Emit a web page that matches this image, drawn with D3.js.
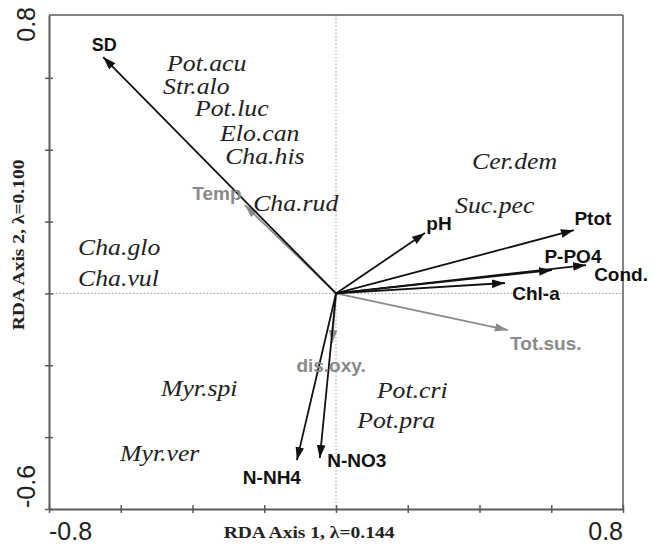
<!DOCTYPE html>
<html>
<head>
<meta charset="utf-8">
<script src="https://cdn.jsdelivr.net/npm/d3@7/dist/d3.min.js"></script>
<style>
  html, body { margin: 0; padding: 0; background: #fff; }
  svg { display: block; }
</style>
</head>
<body>
<svg id="chart" width="664" height="551"></svg>
<script>
// RDA biplot: environmental variables as arrows, species as labels

// Environmental variable scores (arrow tips)
const envNames = ["SD", "Temp", "pH", "Ptot", "P-PO4", "Cond.", "Chl-a", "Tot.sus.", "dis.oxy.", "N-NH4", "N-NO3"];
const envX = [-0.649, -0.254, 0.248, 0.663, 0.602, 0.697, 0.471, 0.479, -0.011, -0.109, -0.045];
const envY = [0.658, 0.246, 0.168, 0.176, 0.065, 0.079, 0.029, -0.102, -0.138, -0.464, -0.458];
// supplementary (passive) variables are drawn in grey
const envPassive = [false, true, false, false, false, false, false, true, true, false, false];

// Species scores
const speciesNames = ["Pot.acu", "Str.alo", "Pot.luc", "Elo.can", "Cha.his", "Cha.rud", "Cha.glo", "Cha.vul",
                      "Cer.dem", "Suc.pec", "Myr.spi", "Myr.ver", "Pot.cri", "Pot.pra"];
const speciesX = [-0.471, -0.482, -0.393, -0.323, -0.309, -0.231, -0.719, -0.719, 0.379, 0.332, -0.488, -0.602, 0.114, 0.059];
const speciesY = [0.636, 0.572, 0.511, 0.441, 0.377, 0.246, 0.124, 0.037, 0.363, 0.240, -0.269, -0.450, -0.274, -0.358];

// Axes
const xDomain = [-0.8, 0.8];
const yDomain = [-0.6, 0.775];
const tickValues = [-0.8, -0.6, -0.4, -0.2, 0, 0.2, 0.4, 0.6, 0.8];
const xEndLabels = ["-0.8", "0.8"];
const yEndLabels = ["-0.6", "0.8"];
const xTitle = "RDA Axis 1, λ=0.144";
const yTitle = "RDA Axis 2, λ=0.100";

const svg = d3.select("#chart");
const plotLeft = 49, plotRight = 623, plotTop = 15, plotBottom = 509;

const x = d3.scaleLinear().domain(xDomain).range([plotLeft, plotRight]);
const y = d3.scaleLinear().domain(yDomain).range([plotBottom, plotTop]);

const frameColor = "#5a5a5a";
const black = "#111";
const grey = "#8a8a8a";
const serif = "'Liberation Serif', 'Times New Roman', Times, serif";
const sans = "'Liberation Sans', Arial, Helvetica, sans-serif";

// zero reference lines
svg.append("line")
  .attr("x1", x(0)).attr("x2", x(0)).attr("y1", plotTop).attr("y2", plotBottom)
  .attr("stroke", "#9a9a9a").attr("stroke-width", 1).attr("stroke-dasharray", "1.5,2");
svg.append("line")
  .attr("x1", plotLeft).attr("x2", plotRight).attr("y1", y(0)).attr("y2", y(0))
  .attr("stroke", "#9a9a9a").attr("stroke-width", 1).attr("stroke-dasharray", "1.5,2");

// frame: top and right edges
svg.append("line").attr("x1", plotLeft).attr("x2", plotRight).attr("y1", plotTop).attr("y2", plotTop)
  .attr("stroke", frameColor).attr("stroke-width", 1.5);
svg.append("line").attr("x1", plotRight).attr("x2", plotRight).attr("y1", plotTop).attr("y2", plotBottom)
  .attr("stroke", frameColor).attr("stroke-width", 1.5);

// bottom axis with ticks crossing the line
const gx = svg.append("g").attr("transform", `translate(0,${plotBottom})`)
  .call(d3.axisBottom(x).tickValues(tickValues.filter(v => v >= xDomain[0] && v <= xDomain[1]))
    .tickFormat("").tickSizeOuter(0));
gx.select(".domain").attr("stroke", frameColor).attr("stroke-width", 2);
gx.selectAll(".tick line").attr("y1", -4).attr("y2", 4).attr("stroke", frameColor).attr("stroke-width", 1.5);

// left axis
const gy = svg.append("g").attr("transform", `translate(${plotLeft},0)`)
  .call(d3.axisLeft(y).tickValues(tickValues.filter(v => v >= yDomain[0] && v <= yDomain[1]))
    .tickFormat("").tickSizeOuter(0));
gy.select(".domain").attr("stroke", frameColor).attr("stroke-width", 2);
gy.selectAll(".tick line").attr("x1", -4).attr("x2", 4).attr("stroke", frameColor).attr("stroke-width", 1.5);

// end labels of the axes
svg.append("text").attr("x", x(xDomain[0])).attr("y", 540)
  .attr("text-anchor", "start").attr("font-family", sans).attr("font-size", 25).attr("fill", "#222")
  .text(xEndLabels[0]);
svg.append("text").attr("x", x(xDomain[1])).attr("y", 540)
  .attr("text-anchor", "end").attr("font-family", sans).attr("font-size", 25).attr("fill", "#222")
  .text(xEndLabels[1]);
svg.append("text").attr("transform", `translate(35,${y(yDomain[0]) - 1}) rotate(-90)`)
  .attr("text-anchor", "start").attr("font-family", sans).attr("font-size", 25).attr("fill", "#222")
  .text(yEndLabels[0]);
svg.append("text").attr("transform", `translate(35,${y(yDomain[1]) - 8}) rotate(-90)`)
  .attr("text-anchor", "end").attr("font-family", sans).attr("font-size", 25).attr("fill", "#222")
  .text(yEndLabels[1]);

// axis titles (slightly widened serif face)
svg.append("text").attr("transform", "translate(309,538) scale(1.22,1)")
  .attr("text-anchor", "middle").attr("font-family", serif).attr("font-weight", "bold")
  .attr("font-size", 16).attr("fill", "#222").text(xTitle);
svg.append("text").attr("transform", "translate(24,245) rotate(-90) scale(1.22,1)")
  .attr("text-anchor", "middle").attr("font-family", serif).attr("font-weight", "bold")
  .attr("font-size", 16).attr("fill", "#222").text(yTitle);

// arrowheads
const defs = svg.append("defs");
[["head-black", black], ["head-grey", grey]].forEach(([id, c]) => {
  defs.append("marker").attr("id", id)
    .attr("viewBox", "0 0 12 8").attr("refX", 12).attr("refY", 4)
    .attr("markerWidth", 13).attr("markerHeight", 9)
    .attr("markerUnits", "userSpaceOnUse").attr("orient", "auto")
    .append("path").attr("d", "M0,0 L12,4 L0,8 Z").attr("fill", c);
});

const env = envNames.map((n, i) => ({ name: n, x: envX[i], y: envY[i], passive: envPassive[i] }));

// label placement relative to the arrow tip (pixels)
const labelOffset = {
  "SD": [1, -12], "Temp": [-28, -12], "pH": [14, -10], "Ptot": [19, -12],
  "P-PO4": [21, -14], "Cond.": [35, 9], "Chl-a": [31, 10], "Tot.sus.": [38, 13],
  "dis.oxy.": [-1, 22], "N-NH4": [-25, 17], "N-NO3": [37, 2]
};

// passive first so active arrows sit on top
const order = env.slice().sort((a, b) => (b.passive - a.passive));
svg.append("g").selectAll("line").data(order).join("line")
  .attr("x1", x(0)).attr("y1", y(0))
  .attr("x2", d => x(d.x)).attr("y2", d => y(d.y))
  .attr("stroke", d => d.passive ? grey : black)
  .attr("stroke-width", 1.8)
  .attr("marker-end", d => d.passive ? "url(#head-grey)" : "url(#head-black)");

svg.append("g").selectAll("text").data(env).join("text")
  .attr("x", d => x(d.x) + labelOffset[d.name][0])
  .attr("y", d => y(d.y) + labelOffset[d.name][1])
  .attr("dy", "0.35em")
  .attr("text-anchor", "middle")
  .attr("font-family", sans).attr("font-weight", "bold")
  .attr("font-size", d => d.name === "SD" ? 18 : 19)
  .attr("fill", d => d.passive ? grey : black)
  .text(d => d.name);

// species names
const species = speciesNames.map((n, i) => ({ name: n, x: speciesX[i], y: speciesY[i] }));
svg.append("g").selectAll("text").data(species).join("text")
  .attr("transform", d => `translate(${x(d.x)},${y(d.y)}) scale(1.12,1)`)
  .attr("dy", "0.25em")
  .attr("text-anchor", "start")
  .attr("font-family", serif)
  .attr("font-style", "italic")
  .attr("font-size", 23)
  .attr("fill", "#222")
  .text(d => d.name);
</script>
</body>
</html>
